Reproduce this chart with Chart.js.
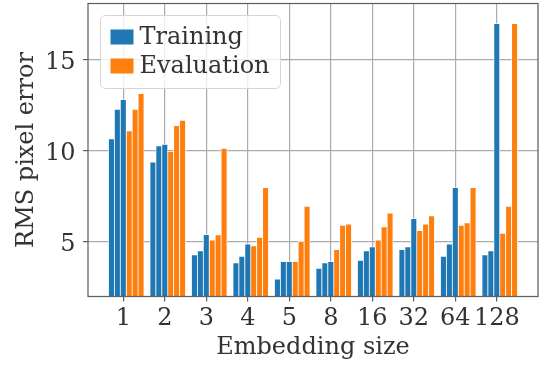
<!DOCTYPE html>
<html>
<head>
<meta charset="utf-8">
<script src="https://cdn.jsdelivr.net/npm/chart.js@4/dist/chart.umd.min.js"></script>
<style>
  html, body { margin: 0; padding: 0; background: #fff; }
  canvas { display: block; }
</style>
</head>
<body>
<canvas id="rmsChart" width="545" height="369"></canvas>
<script>
// embedding sizes on the x axis
const categories = ['1', '2', '3', '4', '5', '8', '16', '32', '64', '128'];

// RMS pixel error, three runs each
const trainA = [10.65, 9.37, 4.29, 3.85, 2.95, 3.55, 3.99, 4.58, 4.21, 4.29];
const trainB = [12.27, 10.27, 4.50, 4.21, 3.92, 3.85, 4.50, 4.72, 4.87, 4.50];
const trainC = [12.80, 10.35, 5.40, 4.87, 3.92, 3.92, 4.72, 6.28, 7.97, 16.97];
const evalA = [11.08, 9.96, 5.09, 4.78, 3.92, 4.58, 5.10, 5.62, 5.90, 5.46];
const evalB = [12.27, 11.37, 5.38, 5.24, 5.02, 5.90, 5.82, 5.97, 6.04, 6.94];
const evalC = [13.13, 11.66, 10.13, 7.97, 6.94, 5.97, 6.57, 6.43, 7.97, 16.97];

const yTicks = [5, 10, 15];

const colors = {
    training: '#1f77b4',
    evaluation: '#ff7f0e',
    text: '#333333',
    grid: '#ababab',
    frame: '#5f5f5f'
};

// each group holds 6 bars, tick sits on the 3rd one
const barStep = 1 / 7;

function buildPoints(runs, firstSlot) {
    const points = [];
    categories.forEach((c, i) => {
        runs.forEach((run, k) => {
            points.push({ x: i + (firstSlot + k) * barStep, y: run[i] });
        });
    });
    return points;
}

// plot frame + legend box drawn over the bars, like matplotlib does
const frameAndLegend = {
    id: 'frameAndLegend',
    afterDatasetsDraw(chart) {
        const { ctx, chartArea: a } = chart;
        ctx.save();
        ctx.strokeStyle = colors.frame;
        ctx.lineWidth = 1.25;
        ctx.strokeRect(a.left, a.top, a.right - a.left, a.bottom - a.top);

        const bx = a.left + 12.5, by = a.top + 12;
        ctx.beginPath();
        ctx.roundRect(bx, by, 180, 73, 5);
        ctx.fillStyle = 'rgba(255,255,255,0.8)';
        ctx.fill();
        ctx.strokeStyle = '#d5d5d5';
        ctx.lineWidth = 1;
        ctx.stroke();

        ctx.font = '24px "DejaVu Serif"';
        ctx.textBaseline = 'middle';
        ctx.textAlign = 'left';
        chart.data.datasets.forEach((ds, idx) => {
            const py = by + 14 + idx * 29;
            ctx.fillStyle = ds.backgroundColor;
            ctx.fillRect(bx + 10, py, 23, 15);
            ctx.fillStyle = colors.text;
            ctx.fillText(ds.label, bx + 39, py + 8);
        });
        ctx.restore();
    }
};

Chart.defaults.font.family = '"DejaVu Serif", serif';
Chart.defaults.font.size = 24;
Chart.defaults.color = colors.text;

new Chart(document.getElementById('rmsChart'), {
    type: 'bar',
    data: {
        datasets: [
            {
                label: 'Training',
                data: buildPoints([trainA, trainB, trainC], -2),
                backgroundColor: colors.training
            },
            {
                label: 'Evaluation',
                data: buildPoints([evalA, evalB, evalC], 1),
                backgroundColor: colors.evaluation
            }
        ]
    },
    options: {
        responsive: false,
        animation: false,
        layout: { padding: { left: 0, right: 7, top: 3.5, bottom: 0 } },
        datasets: {
            bar: {
                grouped: false,
                barPercentage: 1,
                categoryPercentage: 1,
                borderColor: '#ffffff',
                borderWidth: 0.75,
                borderSkipped: false,
                clip: 0
            }
        },
        plugins: {
            legend: { display: false },
            tooltip: { enabled: false }
        },
        scales: {
            x: {
                type: 'linear',
                min: -0.85,
                max: 9.993,
                offset: false,
                afterBuildTicks: axis => {
                    axis.ticks = categories.map((c, i) => ({ value: i }));
                },
                afterFit: axis => {
                    axis.height = 72.5;
                    axis.paddingLeft = 0;
                    axis.paddingRight = 0;
                },
                ticks: {
                    autoSkip: false,
                    maxRotation: 0,
                    padding: 3,
                    callback: value => categories[value]
                },
                grid: {
                    offset: false,
                    color: colors.grid,
                    lineWidth: 1.2,
                    tickColor: colors.frame,
                    tickLength: 5,
                    tickWidth: 1.2
                },
                border: { display: false },
                title: {
                    display: true,
                    text: 'Embedding size',
                    padding: { top: 0, bottom: 6.7 }
                }
            },
            y: {
                min: 2,
                max: 18.07,
                afterBuildTicks: axis => {
                    axis.ticks = yTicks.map(v => ({ value: v }));
                },
                afterFit: axis => {
                    axis.width = 88;
                    axis.paddingTop = 0;
                    axis.paddingBottom = 0;
                },
                ticks: {
                    padding: 7.5,
                    labelOffset: 3
                },
                grid: {
                    color: colors.grid,
                    lineWidth: 1.2,
                    tickColor: colors.frame,
                    tickLength: 5,
                    tickWidth: 1.2
                },
                border: { display: false },
                title: {
                    display: true,
                    text: 'RMS pixel error',
                    padding: { top: 12, bottom: 0 }
                }
            }
        }
    },
    plugins: [frameAndLegend]
});
</script>
</body>
</html>
